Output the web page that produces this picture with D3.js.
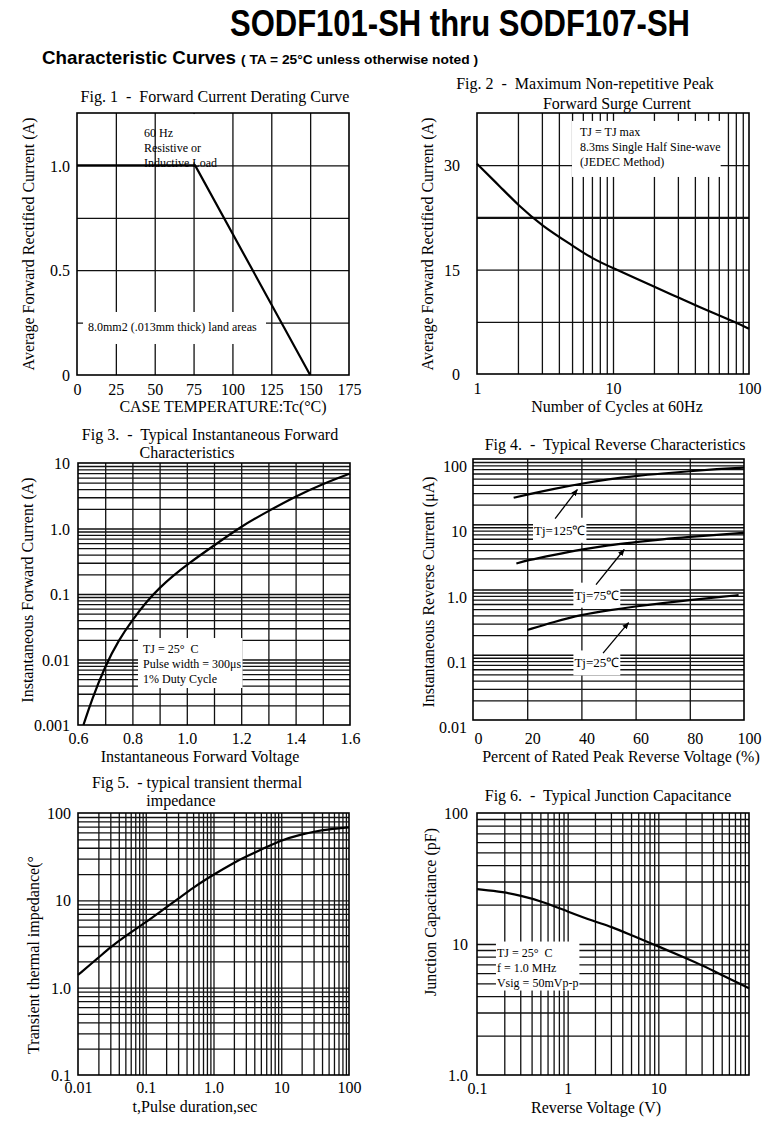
<!DOCTYPE html>
<html>
<head>
<meta charset="utf-8">
<script src="https://cdn.jsdelivr.net/npm/d3@7"></script>
<style>
body { margin: 0; background: #fff; }
text { font-family: "Liberation Serif", "Times New Roman", serif; fill: #000; white-space: pre; }
.hd { font-family: "Liberation Sans Narrow", "Liberation Sans", Arial, sans-serif; font-weight: bold; }
</style>
</head>
<body>
<svg id="page" width="775" height="1122"></svg>
<script>
// Fig 1 - derating
const f1Temp = [0, 76, 150];
const f1Amps = [1.0, 1.0, 0];
const f1XTicks = [0, 25, 50, 75, 100, 125, 150, 175];
const f1YTicks = [0, 0.5, 1.0];
const f1YLabels = ["0", "0.5", "1.0"];
const f1YGrid = [0.25, 0.5, 0.75, 1.0];

// Fig 2 - surge current
const f2Cycles = [1, 1.5, 2, 3, 5, 7, 10, 20, 30, 50, 80, 100];
const f2Amps = [30.2, 26.8, 24.3, 21.3, 18.5, 16.6, 15.2, 12.6, 11.0, 9.1, 7.4, 6.5];
const f2XTicks = [1, 10, 100];
const f2YTicks = [0, 15, 30];
const f2YGrid = [7.5, 15, 22.5, 30];

// Fig 3 - forward characteristics
const f3Volts = [0.62, 0.65, 0.7, 0.75, 0.8, 0.85, 0.9, 0.95, 1.0, 1.1, 1.2, 1.3, 1.4, 1.5, 1.6];
const f3Amps = [0.001, 0.0024, 0.008, 0.02, 0.04, 0.075, 0.125, 0.19, 0.28, 0.55, 1.08, 1.85, 3.1, 4.8, 6.9];
const f3XTicks = [0.6, 0.8, 1.0, 1.2, 1.4, 1.6];
const f3XGrid = [0.7, 0.8, 0.9, 1.0, 1.1, 1.2, 1.3, 1.4, 1.5];
const f3YTicks = [0.001, 0.01, 0.1, 1, 10];
const f3YLabels = ["0.001", "0.01", "0.1", "1.0", "10"];

// Fig 4 - reverse characteristics (uA)
const f4Pct125 = [15, 20, 30, 40, 50, 60, 70, 80, 90, 100];
const f4Ir125 = [25.5, 28.5, 35, 42, 49, 55, 60, 65, 70, 74];
const f4Pct75 = [16, 20, 30, 40, 50, 60, 70, 80, 90, 100];
const f4Ir75 = [2.5, 2.8, 3.4, 4.1, 4.8, 5.3, 5.9, 6.4, 6.9, 7.4];
const f4Pct25 = [20, 30, 40, 50, 60, 70, 80, 90, 98];
const f4Ir25 = [0.24, 0.32, 0.41, 0.48, 0.55, 0.62, 0.69, 0.76, 0.82];
const f4XTicks = [0, 20, 40, 60, 80, 100];
const f4XGrid = [20, 40, 60, 80];
const f4YTicks = [0.01, 0.1, 1, 10, 100];
const f4YLabels = ["0.01", "0.1", "1.0", "10", "100"];
const f4TjNames = ["Tj=125\u2103", "Tj=75\u2103", "Tj=25\u2103"];
const f4TjAt = [[32, 8.1], [45.7, 0.82], [45.7, 0.075]];
const f4ArrowFrom = [[30.3, 12.2], [45.4, 1.19], [48, 0.106]];
const f4ArrowTo = [[38.5, 34], [55.8, 4.1], [57.4, 0.31]];

// Fig 5 - transient thermal impedance
const f5Time = [0.01, 0.02, 0.03, 0.05, 0.1, 0.2, 0.3, 0.5, 1, 2, 3, 5, 10, 20, 30, 50, 100];
const f5Z = [1.4, 2.2, 2.9, 3.9, 5.6, 8.3, 10.4, 14, 19.7, 27, 31.5, 38, 49, 57, 61, 65, 68.5];
const f5XTicks = [0.01, 0.1, 1, 10, 100];
const f5XLabels = ["0.01", "0.1", "1.0", "10", "100"];
const f5YTicks = [0.1, 1, 10, 100];
const f5YLabels = ["0.1", "1.0", "10", "100"];

// Fig 6 - junction capacitance
const f6Volts = [0.1, 0.2, 0.3, 0.5, 1, 2, 3, 5, 10, 20, 30, 50, 100];
const f6Cap = [26.2, 24.9, 23.4, 21.4, 17.7, 14.8, 13.6, 11.7, 9.6, 7.8, 6.9, 5.8, 4.6];
const f6XTicks = [0.1, 1, 10];
const f6XLabels = ["0.1", "1", "10"];
const f6YTicks = [1, 10, 100];
const f6YLabels = ["1.0", "10", "100"];

const svg = d3.select("#page");

svg.append("defs").append("marker")
    .attr("id", "arrow")
    .attr("viewBox", "0 0 10 10")
    .attr("refX", 9).attr("refY", 5)
    .attr("markerWidth", 7).attr("markerHeight", 7)
    .attr("markerUnits", "userSpaceOnUse")
    .attr("orient", "auto")
    .append("path").attr("d", "M0,1 L10,5 L0,9 z").attr("fill", "#000");

// header
svg.append("text").attr("class", "hd")
    .attr("x", 230).attr("y", 36)
    .attr("font-size", 36)
    .attr("textLength", 460).attr("lengthAdjust", "spacingAndGlyphs")
    .text("SODF101-SH thru SODF107-SH");
svg.append("text").attr("class", "hd")
    .attr("x", 42).attr("y", 64)
    .attr("font-size", 19)
    .attr("textLength", 194).attr("lengthAdjust", "spacingAndGlyphs")
    .text("Characteristic Curves");
svg.append("text").attr("class", "hd")
    .attr("x", 241).attr("y", 64)
    .attr("font-size", 12)
    .attr("textLength", 237).attr("lengthAdjust", "spacingAndGlyphs")
    .text("( TA = 25\u00B0C unless otherwise noted )");

function logGrid(scale) {
    const [lo, hi] = scale.domain();
    return scale.ticks().filter(v => v > lo * 1.001 && v < hi * 0.999);
}

function drawPanel(p) {
    const g = svg.append("g");
    const x = p.x, y = p.y;
    const [xl, xr] = x.range(), [yb, yt] = y.range();
    const w = xr - xl, h = yb - yt;

    // grid
    g.append("g").attr("transform", `translate(0,${yb})`)
        .call(d3.axisBottom(x).tickValues(p.xGrid).tickSize(-h).tickFormat(""))
        .call(s => s.select(".domain").remove())
        .selectAll("line").attr("stroke", "#111").attr("stroke-width", 1.3);
    g.append("g").attr("transform", `translate(${xl},0)`)
        .call(d3.axisLeft(y).tickValues(p.yGrid).tickSize(-w).tickFormat(""))
        .call(s => s.select(".domain").remove())
        .selectAll("line").attr("stroke", "#111")
        .attr("stroke-width", d => (p.heavyY && p.heavyY.includes(d)) ? 2.4 : 1.3);

    const boxLayer = g.append("g");
    (p.masks || []).forEach(m => {
        boxLayer.append("rect")
            .attr("x", x(m.x[0])).attr("y", y(m.y[1]))
            .attr("width", x(m.x[1]) - x(m.x[0])).attr("height", y(m.y[0]) - y(m.y[1]))
            .attr("fill", "#fff");
    });

    // curves
    const line = d3.line().x(d => x(d[0])).y(d => y(d[1])).curve(p.curve || d3.curveBasis);
    p.series.forEach(s => {
        g.append("path").datum(d3.zip(s[0], s[1]))
            .attr("d", line)
            .attr("fill", "none").attr("stroke", "#000").attr("stroke-width", 2.2);
    });

    // frame
    g.append("rect").attr("x", xl).attr("y", yt).attr("width", w).attr("height", h)
        .attr("fill", "none").attr("stroke", "#000").attr("stroke-width", 1.6);

    // tick labels
    const xa = g.append("g").attr("transform", `translate(0,${yb})`)
        .call(d3.axisBottom(x).tickValues(p.xTicks).tickSize(0)
            .tickFormat((d, i) => p.xLabels ? p.xLabels[i] : String(d)));
    xa.select(".domain").remove();
    xa.attr("font-family", null);
    xa.selectAll("text").attr("y", p.xLabelY).attr("dy", 0).attr("dx", p.xLabelDx || 0)
        .attr("font-size", 16).attr("fill", "#000");

    const ya = g.append("g").attr("transform", `translate(${xl},0)`)
        .call(d3.axisLeft(y).tickValues(p.yTicks).tickSize(0)
            .tickFormat((d, i) => p.yLabels ? p.yLabels[i] : String(d)));
    ya.select(".domain").remove();
    ya.attr("font-family", null);
    ya.selectAll("text").attr("x", -p.yLabelPad).attr("dy", "0.35em")
        .attr("transform", `translate(0,${p.yLabelDy || 0})`)
        .attr("font-size", 16).attr("fill", "#000");

    // titles
    p.title.forEach(t => {
        g.append("text").attr("x", t[1]).attr("y", t[2]).attr("text-anchor", "middle")
            .attr("font-size", 16).text(t[0]);
    });
    g.append("text").attr("x", p.xTitle[1]).attr("y", p.xTitle[2]).attr("text-anchor", "middle")
        .attr("font-size", 16).text(p.xTitle[0]);
    g.append("text")
        .attr("transform", `translate(${p.yTitle[1]},${p.yTitle[2]}) rotate(-90)`)
        .attr("text-anchor", "middle").attr("font-size", 16).text(p.yTitle[0]);

    // notes with white backing
    (p.notes || []).forEach(n => {
        const t = g.append("text").attr("font-size", n.size || 12)
            .attr("text-anchor", n.anchor || "start");
        n.lines.forEach((s, i) => {
            t.append("tspan").attr("x", x(n.at[0])).attr("y", y(n.at[1]) + i * (n.lh || 15))
                .attr("dy", n.center ? "0.35em" : null).text(s);
        });
        if (n.pad) {
            const b = t.node().getBBox();
            boxLayer.append("rect")
                .attr("x", b.x - n.pad[0]).attr("y", b.y - n.pad[1])
                .attr("width", b.width + n.pad[0] + n.pad[2])
                .attr("height", b.height + n.pad[1] + n.pad[3])
                .attr("fill", "#fff");
        }
    });
    return g;
}

// Fig 1
const x1 = d3.scaleLinear().domain([0, 175]).range([77, 349]);
const y1 = d3.scaleLinear().domain([0, 1.25]).range([375, 113]);
drawPanel({
    x: x1, y: y1,
    xGrid: f1XTicks.slice(1, -1), yGrid: f1YGrid,
    xTicks: f1XTicks, yTicks: f1YTicks, yLabels: f1YLabels,
    xLabelY: 20, yLabelPad: 7,
    series: [[f1Temp, f1Amps]], curve: d3.curveLinear,
    masks: [{ x: [53, 93], y: [1.015, 1.245] }],
    title: [["Fig. 1  -  Forward Current Derating Curve", 215, 102]],
    xTitle: ["CASE TEMPERATURE:Tc(\u00B0C)", 223, 412],
    yTitle: ["Average Forward Rectified Current (A)", 34, 244],
    notes: [
        { at: [43.1, 1.137], lines: ["60 Hz", "Resistive or", "Inductive Load"] },
        { at: [7.1, 0.21], lines: ["8.0mm2 (.013mm thick) land areas"], pad: [5, 8, 9, 10] }
    ]
});

// Fig 2
const x2 = d3.scaleLog().domain([1, 100]).range([477, 749]);
const y2 = d3.scaleLinear().domain([0, 37.5]).range([374, 113]);
drawPanel({
    x: x2, y: y2,
    xGrid: logGrid(x2), yGrid: f2YGrid, heavyY: [22.5],
    xTicks: f2XTicks, yTicks: f2YTicks,
    xLabelY: 20, yLabelPad: 17,
    series: [[f2Cycles, f2Amps]],
    title: [["Fig. 2  -  Maximum Non-repetitive Peak", 585, 89], ["Forward Surge Current", 617, 109]],
    xTitle: ["Number of Cycles at 60Hz", 617, 412],
    yTitle: ["Average Forward Rectified Current (A)", 433, 244],
    notes: [
        { at: [5.72, 34.2], lines: ["TJ = TJ max", "8.3ms Single Half Sine-wave", "(JEDEC Method)"], pad: [8, 4, 0, 8] }
    ]
});

// Fig 3
const x3 = d3.scaleLinear().domain([0.6, 1.6]).range([78, 350]);
const y3 = d3.scaleLog().domain([0.001, 10]).range([725, 463]);
drawPanel({
    x: x3, y: y3,
    xGrid: f3XGrid, yGrid: logGrid(y3),
    xTicks: f3XTicks, xLabels: f3XTicks.map(d => d.toFixed(1)),
    yTicks: f3YTicks, yLabels: f3YLabels,
    xLabelY: 19, yLabelPad: 8,
    series: [[f3Volts, f3Amps]],
    title: [["Fig 3.  -  Typical Instantaneous Forward", 210, 440], ["Characteristics", 187, 458]],
    xTitle: ["Instantaneous Forward Voltage", 200, 762],
    yTitle: ["Instantaneous Forward Current (A)", 33, 590],
    notes: [
        { at: [0.839, 0.01256], lines: ["TJ = 25\u00B0  C", "Pulse width = 300\u03BCs", "1% Duty Cycle"], pad: [5, 4, 1, 2] }
    ]
});

// Fig 4
const x4 = d3.scaleLinear().domain([0, 100]).range([473, 744]);
const y4 = d3.scaleLog().domain([0.01, 100]).range([720, 459]);
const g4 = drawPanel({
    x: x4, y: y4,
    xGrid: f4XGrid, yGrid: logGrid(y4),
    xTicks: f4XTicks, yTicks: f4YTicks, yLabels: f4YLabels,
    xLabelY: 24, xLabelDx: 5, yLabelPad: 6, yLabelDy: 7,
    series: [[f4Pct125, f4Ir125], [f4Pct75, f4Ir75], [f4Pct25, f4Ir25]],
    title: [["Fig 4.  -  Typical Reverse Characteristics", 615, 450]],
    xTitle: ["Percent of Rated Peak Reverse Voltage (%)", 621, 762],
    yTitle: ["Instantaneous Reverse Current (\u03BCA)", 434, 592],
    notes: f4TjNames.map((s, i) => ({
        at: f4TjAt[i], lines: [s], size: 13, anchor: "middle", center: true, pad: [1, 5, 1, 5]
    }))
});
f4ArrowFrom.forEach((a, i) => {
    g4.append("line")
        .attr("x1", x4(a[0])).attr("y1", y4(a[1]))
        .attr("x2", x4(f4ArrowTo[i][0])).attr("y2", y4(f4ArrowTo[i][1]))
        .attr("stroke", "#000").attr("stroke-width", 1.3)
        .attr("marker-end", "url(#arrow)");
});

// Fig 5
const x5 = d3.scaleLog().domain([0.01, 100]).range([78, 349]);
const y5 = d3.scaleLog().domain([0.1, 100]).range([1075, 813]);
drawPanel({
    x: x5, y: y5,
    xGrid: logGrid(x5), yGrid: logGrid(y5),
    xTicks: f5XTicks, xLabels: f5XLabels, yTicks: f5YTicks, yLabels: f5YLabels,
    xLabelY: 18, yLabelPad: 7,
    series: [[f5Time, f5Z]],
    title: [["Fig 5.  - typical transient thermal", 197, 788], ["impedance", 181, 806]],
    xTitle: ["t,Pulse duration,sec", 195, 1112],
    yTitle: ["Transient thermal impedance(\u00B0", 39, 955]
});

// Fig 6
const x6 = d3.scaleLog().domain([0.1, 100]).range([477, 749]);
const y6 = d3.scaleLog().domain([1, 100]).range([1075, 813]);
drawPanel({
    x: x6, y: y6,
    xGrid: logGrid(x6), yGrid: logGrid(y6),
    xTicks: f6XTicks, xLabels: f6XLabels, yTicks: f6YTicks, yLabels: f6YLabels,
    xLabelY: 19, yLabelPad: 9,
    series: [[f6Volts, f6Cap]],
    title: [["Fig 6.  -  Typical Junction Capacitance", 608, 801]],
    xTitle: ["Reverse Voltage (V)", 596, 1113],
    yTitle: ["Junction Capacitance (pF)", 436, 912],
    notes: [
        { at: [0.166, 8.02], lines: ["TJ = 25\u00B0  C", "f = 1.0 MHz", "Vsig = 50mVp-p"], pad: [1, 4, 1, 1] }
    ]
});
</script>
</body>
</html>
